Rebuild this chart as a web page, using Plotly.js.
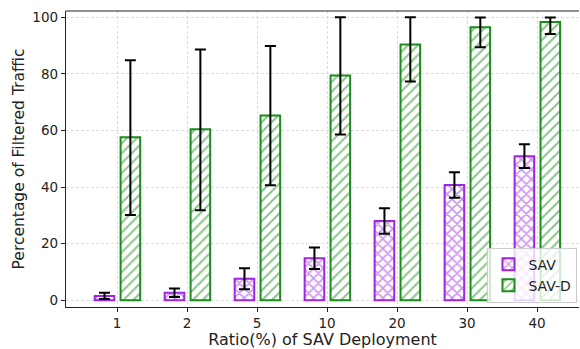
<!DOCTYPE html>
<html>
<head>
<meta charset="utf-8">
<script src="https://cdn.plot.ly/plotly-3.0.1.min.js"></script>
<style>html,body{margin:0;padding:0;background:#fff;}#chart{width:580px;height:349px;}</style>
</head>
<body>
<div id="chart"></div>
<script>
const categories = ["1", "2", "5", "10", "20", "30", "40"];
const savValues = [1.5, 2.6, 7.6, 14.8, 28.0, 40.7, 50.9];
const savErr = [1.1, 1.5, 3.7, 3.8, 4.5, 4.5, 4.2];
const savdValues = [57.6, 60.4, 65.3, 79.4, 90.4, 96.5, 98.3];
const savdErrUp = [27.2, 28.2, 24.5, 20.6, 9.6, 3.4, 1.6];
const savdErrDown = [27.5, 28.6, 24.7, 20.8, 13.1, 7.1, 4.2];

const purple = "#9b27e0";
const green = "#1b8c1b";
const font = "DejaVu Sans, sans-serif";

const traces = [
  {
    type: "bar", name: "SAV", x: categories, y: savValues,
    offset: -0.32, width: 0.28,
    marker: {color: "white", line: {color: purple, width: 2},
      pattern: {shape: "x", fgcolor: purple, bgcolor: "white", size: 7, solidity: 0.4, fillmode: "overlay"}},
    error_y: {type: "data", array: savErr, visible: true, color: "black", thickness: 2, width: 5.5}
  },
  {
    type: "bar", name: "SAV-D", x: categories, y: savdValues,
    offset: 0.05, width: 0.28,
    marker: {color: "white", line: {color: green, width: 2},
      pattern: {shape: "/", fgcolor: green, bgcolor: "white", size: 7, solidity: 0.3, fillmode: "overlay"}},
    error_y: {type: "data", symmetric: false, array: savdErrUp, arrayminus: savdErrDown, visible: true, color: "black", thickness: 2, width: 5.5}
  }
];

const layout = {
  width: 580, height: 349,
  margin: {l: 66, r: 1, t: 11, b: 42},
  paper_bgcolor: "white", plot_bgcolor: "white",
  barmode: "overlay",
  showlegend: true,
  font: {family: font, size: 13, color: "#222"},
  xaxis: {
    type: "category", range: [-0.73, 6.6],
    showline: true, linecolor: "#222", linewidth: 1.2, mirror: false,
    ticks: "outside", ticklen: 4, tickcolor: "#222",
    showgrid: true, gridcolor: "#d6d6d6", griddash: "3px,2px", gridwidth: 0.8,
    tickfont: {family: font, size: 13.5, color: "#222"},
    title: {text: "Ratio(%) of SAV Deployment", font: {family: font, size: 16, color: "#222"}, standoff: 4},
    zeroline: false
  },
  yaxis: {
    range: [-2.4, 102.2],
    tickvals: [0, 20, 40, 60, 80, 100],
    showline: true, linecolor: "#222", linewidth: 1.2, mirror: false,
    ticks: "outside", ticklen: 4, tickcolor: "#222",
    showgrid: true, gridcolor: "#d6d6d6", griddash: "3px,2px", gridwidth: 0.8,
    tickfont: {family: font, size: 13.5, color: "#222"},
    title: {text: "Percentage of Filtered Traffic", font: {family: font, size: 15.5, color: "#222"}, standoff: 3},
    zeroline: false
  },
  shapes: [
    {type: "line", xref: "paper", yref: "paper", x0: 0, x1: 1, y0: 1, y1: 1, line: {color: "#222", width: 1.2}}
  ],
  legend: {
    x: 0.997, y: 0.015, xanchor: "right", yanchor: "bottom",
    bgcolor: "rgba(255,255,255,0.8)", bordercolor: "#cccccc", borderwidth: 1,
    font: {family: font, size: 14, color: "#222"},
    tracegroupgap: 0, itemwidth: 30
  }
};

Plotly.newPlot("chart", traces, layout, {displayModeBar: false, staticPlot: true});
</script>
</body>
</html>
